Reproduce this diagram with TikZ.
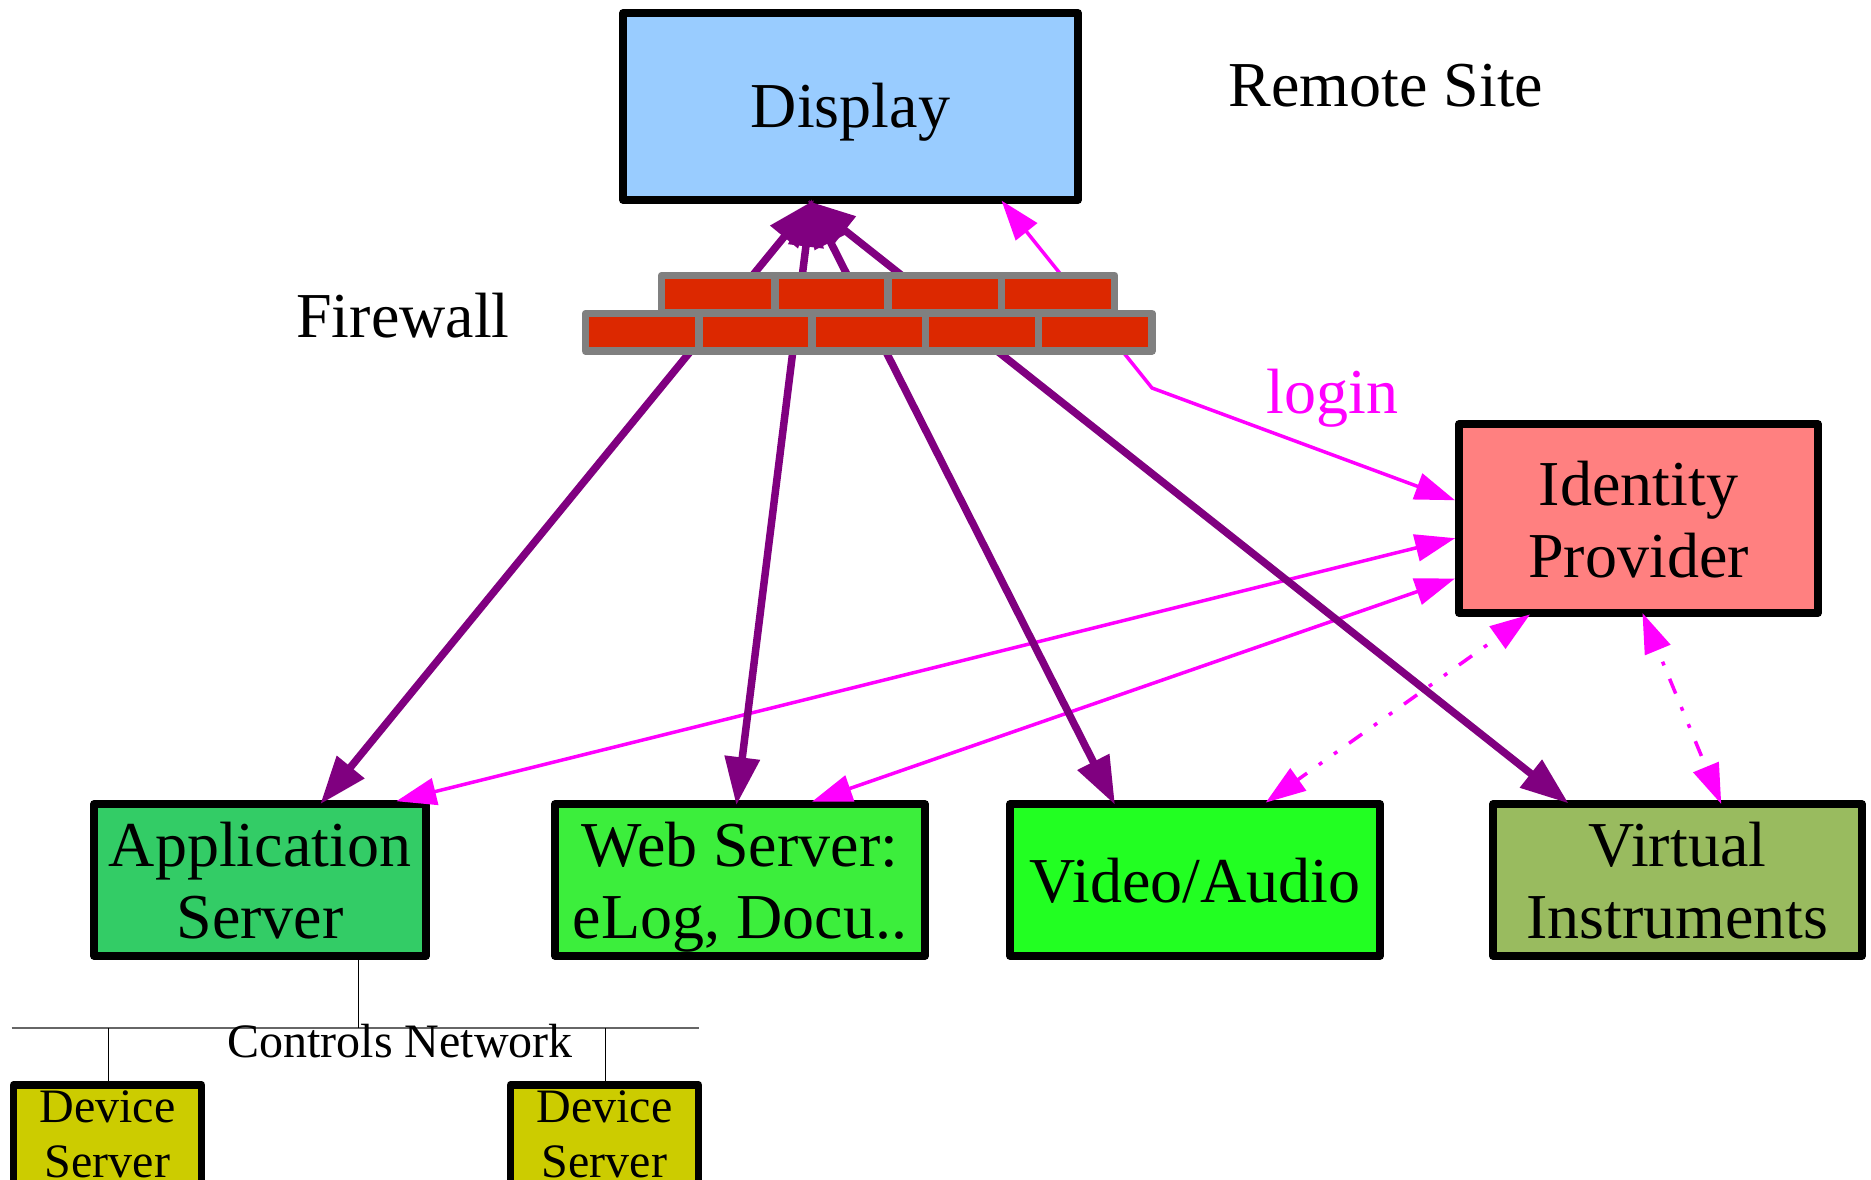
\documentclass[tikz,border=0pt]{standalone}
\usepackage{fontspec}
\setmainfont{Liberation Serif}
\usetikzlibrary{arrows.meta,calc}
\definecolor{dispc}{HTML}{99CCFF}
\definecolor{idpc}{HTML}{FF8080}
\definecolor{appc}{HTML}{33CC66}
\definecolor{webc}{HTML}{3CEE3C}
\definecolor{vidc}{HTML}{22FF22}
\definecolor{virc}{HTML}{99BB5F}
\definecolor{devc}{HTML}{CCCC00}
\definecolor{brickc}{HTML}{DC2800}
\definecolor{mortarc}{HTML}{808080}
\definecolor{purplec}{HTML}{800080}
\definecolor{magc}{HTML}{FF00FF}
\newcommand\bigfnt{\fontsize{64}{72}\selectfont}
\newcommand\smallfnt{\fontsize{48}{55}\selectfont}
\newcommand\up{\rule{0pt}{60pt}}
\newcommand\dn{\rule[-15pt]{0pt}{15pt}}
\tikzset{
  x=1pt,y=-1pt,
  boxnode/.style={draw=black,line width=7.5pt,line join=round,inner sep=0pt,align=center,font=\bigfnt,text=black},
  devnode/.style={boxnode,font=\smallfnt,minimum width=188pt,minimum height=130pt},
  brick/.style={draw=mortarc,fill=brickc,line width=7.5pt,line join=round,minimum width=113.3pt,minimum height=37.6pt,inner sep=0pt},
  txt/.style={anchor=base,inner sep=0pt,font=\bigfnt},
  purplearrow/.style={draw=purplec,line width=7.5pt,shorten <=-5pt,shorten >=-5pt,{Triangle[length=48pt,width=34pt]}-{Triangle[length=48pt,width=34pt]}},
  magarrow/.style={draw=magc,line width=3.5pt,shorten <=-4pt,shorten >=-4pt,{Triangle[length=40pt,width=27pt]}-{Triangle[length=40pt,width=27pt]}},
  dotline/.style={magarrow,dash pattern=on 4pt off 14.5pt on 16pt off 14.5pt on 4pt off 14.5pt,dash phase=54pt},
  buswire/.style={draw=black!60,line width=1.6pt},
  wire/.style={draw=black,line width=1.1pt}
}
\begin{document}
\begin{tikzpicture}
\path[use as bounding box] (0,0) rectangle (1871,1180);
\clip (0,0) rectangle (1871,1180);

% boxes
\node[boxnode,fill=dispc,minimum width=455pt,minimum height=187pt] (disp) at (850.5,106.5) {\rule{0pt}{58pt}Display\dn};
\node[boxnode,fill=idpc,minimum width=359pt,minimum height=189pt] (idp) at (1638.5,518.5) {\up Identity\\Provider\dn};
\node[boxnode,fill=appc,minimum width=332pt,minimum height=152pt] (app) at (260,880) {\up Application\\Server\dn};
\node[boxnode,fill=webc,minimum width=370pt,minimum height=152pt] (web) at (740,880) {\up Web Server:\\eLog, Docu..\dn};
\node[boxnode,fill=vidc,minimum width=370pt,minimum height=152pt] (vid) at (1195,880) {\up Video/Audio\dn};
\node[boxnode,fill=virc,minimum width=369pt,minimum height=152pt] (vir) at (1677.5,880) {\up Virtual\\Instruments\dn};
\node[devnode,fill=devc] (dev1) at (107.5,1150) {\rule{0pt}{36pt}Device\\Server\rule[-37pt]{0pt}{37pt}};
\node[devnode,fill=devc] (dev2) at (604.5,1150) {\rule{0pt}{36pt}Device\\Server\rule[-37pt]{0pt}{37pt}};

% controls network bus
\coordinate (busL) at (11.5,1028);
\coordinate (busR) at (699,1028);
\coordinate (tapA) at (358.6,1028);
\coordinate (tapB) at (108.6,1028);
\coordinate (tapC) at (605.6,1028);
\draw[buswire] (busL) -- (busR);
\draw[wire] (app.south -| tapA) -- (tapA);
\draw[wire] (tapB) -- (tapB |- dev1.north);
\draw[wire] (tapC) -- (tapC |- dev2.north);

% magenta connectors
\coordinate (loginBend) at (1152,388);
\draw[magarrow] ($(disp.south west)!0.832!(disp.south east)$) -- (loginBend) -- ($(idp.north west)!0.4!(idp.south west)+(-4,0)$);
\draw[magarrow] ($(idp.north west)!0.605!(idp.south west)+(-4,0)$) -- ($(app.north west)!0.913!(app.north east)$);
\draw[magarrow] ($(idp.north west)!0.812!(idp.south west)+(-4,0)$) -- ($(web.north west)!0.701!(web.north east)$);
\draw[dotline] ($(idp.south west)!0.195!(idp.south east)$) -- ($(vid.north west)!0.696!(vid.north east)$);
\draw[dotline] ($(idp.south west)!0.515!(idp.south east)$) -- ($(vir.north west)!0.612!(vir.north east)$);

% purple connectors
\draw[purplearrow] ($(disp.south west)!0.415!(disp.south east)$) -- ($(app.north west)!0.687!(app.north east)$);
\draw[purplearrow] ($(disp.south west)!0.415!(disp.south east)$) -- ($(web.north west)!0.492!(web.north east)$);
\draw[purplearrow] ($(disp.south west)!0.415!(disp.south east)$) -- ($(vid.north west)!0.282!(vid.north east)$);
\draw[purplearrow] ($(disp.south west)!0.415!(disp.south east)$) -- ($(vir.north west)!0.2!(vir.north east)$);

% firewall
\foreach \i/\cx in {1/718.15,2/831.45,3/944.75,4/1058.05}
  \node[brick] (top\i) at (\cx,294.3) {};
\foreach \i/\cx in {1/642.15,2/755.45,3/868.75,4/982.05,5/1095.35}
  \node[brick] (bot\i) at (\cx,332.3) {};

% labels
\node[txt] (remote) at (1386,107) {Remote Site};
\node[txt] (firewall) at (403,337) {Firewall};
\node[txt,text=magc] (login) at (1332.5,413) {login};
\node[txt,font=\smallfnt] (ctrl) at (400,1057.7) {Controls Network};
\end{tikzpicture}
\end{document}
